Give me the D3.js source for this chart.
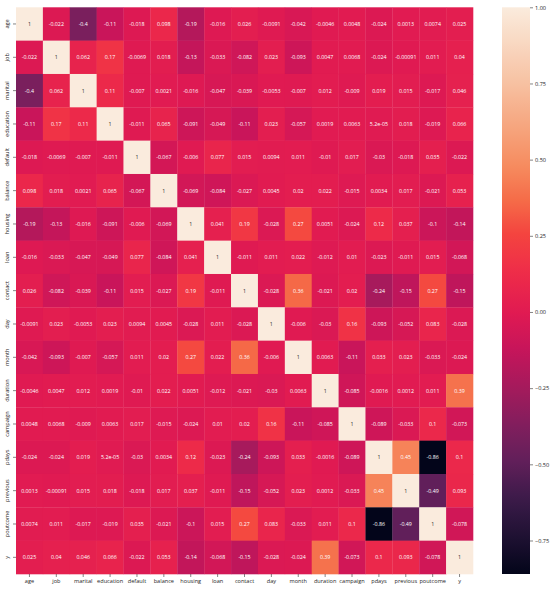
<!DOCTYPE html>
<html>
<head>
<meta charset="utf-8">
<script src="https://cdn.jsdelivr.net/npm/d3@7"></script>
<style>
  html, body { margin: 0; padding: 0; background: #fff; }
  svg { display: block; }
  text { font-family: "Open Sans", "Noto Sans", sans-serif; }
</style>
</head>
<body>
<svg id="chart" width="550" height="590"></svg>
<script>
// ---- data ----
const variables = ["age","job","marital","education","default","balance","housing","loan","contact","day","month","duration","campaign","pdays","previous","poutcome","y"];

const rowAge       = [1, -0.022, -0.4, -0.11, -0.018, 0.098, -0.19, -0.016, 0.026, -0.0091, -0.042, -0.0046, 0.0048, -0.024, 0.0013, 0.0074, 0.025];
const rowJob       = [-0.022, 1, 0.062, 0.17, -0.0069, 0.018, -0.13, -0.033, -0.082, 0.023, -0.093, 0.0047, 0.0068, -0.024, -0.00091, 0.011, 0.04];
const rowMarital   = [-0.4, 0.062, 1, 0.11, -0.007, 0.0021, -0.016, -0.047, -0.039, -0.0053, -0.007, 0.012, -0.009, 0.019, 0.015, -0.017, 0.046];
const rowEducation = [-0.11, 0.17, 0.11, 1, -0.011, 0.065, -0.091, -0.049, -0.11, 0.023, -0.057, 0.0019, 0.0063, 5.2e-05, 0.018, -0.019, 0.066];
const rowDefault   = [-0.018, -0.0069, -0.007, -0.011, 1, -0.067, -0.006, 0.077, 0.015, 0.0094, 0.011, -0.01, 0.017, -0.03, -0.018, 0.035, -0.022];
const rowBalance   = [0.098, 0.018, 0.0021, 0.065, -0.067, 1, -0.069, -0.084, -0.027, 0.0045, 0.02, 0.022, -0.015, 0.0034, 0.017, -0.021, 0.053];
const rowHousing   = [-0.19, -0.13, -0.016, -0.091, -0.006, -0.069, 1, 0.041, 0.19, -0.028, 0.27, 0.0051, -0.024, 0.12, 0.037, -0.1, -0.14];
const rowLoan      = [-0.016, -0.033, -0.047, -0.049, 0.077, -0.084, 0.041, 1, -0.011, 0.011, 0.022, -0.012, 0.01, -0.023, -0.011, 0.015, -0.068];
const rowContact   = [0.026, -0.082, -0.039, -0.11, 0.015, -0.027, 0.19, -0.011, 1, -0.028, 0.36, -0.021, 0.02, -0.24, -0.15, 0.27, -0.15];
const rowDay       = [-0.0091, 0.023, -0.0053, 0.023, 0.0094, 0.0045, -0.028, 0.011, -0.028, 1, -0.006, -0.03, 0.16, -0.093, -0.052, 0.083, -0.028];
const rowMonth     = [-0.042, -0.093, -0.007, -0.057, 0.011, 0.02, 0.27, 0.022, 0.36, -0.006, 1, 0.0063, -0.11, 0.033, 0.023, -0.033, -0.024];
const rowDuration  = [-0.0046, 0.0047, 0.012, 0.0019, -0.01, 0.022, 0.0051, -0.012, -0.021, -0.03, 0.0063, 1, -0.085, -0.0016, 0.0012, 0.011, 0.39];
const rowCampaign  = [0.0048, 0.0068, -0.009, 0.0063, 0.017, -0.015, -0.024, 0.01, 0.02, 0.16, -0.11, -0.085, 1, -0.089, -0.033, 0.1, -0.073];
const rowPdays     = [-0.024, -0.024, 0.019, 5.2e-05, -0.03, 0.0034, 0.12, -0.023, -0.24, -0.093, 0.033, -0.0016, -0.089, 1, 0.45, -0.86, 0.1];
const rowPrevious  = [0.0013, -0.00091, 0.015, 0.018, -0.018, 0.017, 0.037, -0.011, -0.15, -0.052, 0.023, 0.0012, -0.033, 0.45, 1, -0.49, 0.093];
const rowPoutcome  = [0.0074, 0.011, -0.017, -0.019, 0.035, -0.021, -0.1, 0.015, 0.27, 0.083, -0.033, 0.011, 0.1, -0.86, -0.49, 1, -0.078];
const rowY         = [0.025, 0.04, 0.046, 0.066, -0.022, 0.053, -0.14, -0.068, -0.15, -0.028, -0.024, 0.39, -0.073, 0.1, 0.093, -0.078, 1];

const matrix = [rowAge,rowJob,rowMarital,rowEducation,rowDefault,rowBalance,rowHousing,rowLoan,rowContact,rowDay,rowMonth,rowDuration,rowCampaign,rowPdays,rowPrevious,rowPoutcome,rowY];

const colorbarTicks = [-0.75, -0.5, -0.25, 0, 0.25, 0.5, 0.75, 1.0];

// ---- rocket-like colormap (calibrated to the reference look) ----
const rocketStops = [
  [0.000, "#03051a"], [0.060, "#1c1030"], [0.130, "#3a1a48"], [0.200, "#621f5a"],
  [0.250, "#7b1f5d"], [0.330, "#a51a5c"], [0.400, "#c8155a"], [0.460, "#e01a52"],
  [0.530, "#ee2b49"], [0.600, "#f4443f"], [0.660, "#f56c48"], [0.720, "#f68b5f"],
  [0.800, "#f6a983"], [0.880, "#f7c6a8"], [1.000, "#faebdd"]
];
const rocket = d3.scaleLinear()
  .domain(rocketStops.map(d => d[0]))
  .range(rocketStops.map(d => d[1]))
  .interpolate(d3.interpolateRgb);

const vmin = -0.86, vmax = 1;
const color = v => rocket((v - vmin) / (vmax - vmin));

// ---- layout ----
const plotL = 16, plotR = 473, plotT = 7.3, plotB = 574;
const svg = d3.select("#chart");

const x = d3.scaleBand().domain(variables).range([plotL, plotR]).padding(0);
const y = d3.scaleBand().domain(variables).range([plotT, plotB]).padding(0);

const cells = [];
matrix.forEach((row, i) => row.forEach((v, j) => cells.push({r: variables[i], c: variables[j], v})));

function fmt(v) {
  if (v !== 0 && Math.abs(v) < 1e-4) {
    let s = v.toExponential(1);
    return s.replace(/e([+-])(\d)$/, "e$10$2");
  }
  return String(v);
}
function luminance(c) {
  const rgb = d3.rgb(c);
  const f = u => { u /= 255; return u <= 0.03928 ? u / 12.92 : Math.pow((u + 0.055) / 1.055, 2.4); };
  return 0.2126 * f(rgb.r) + 0.7152 * f(rgb.g) + 0.0722 * f(rgb.b);
}

const g = svg.append("g");
g.selectAll("rect.cell").data(cells).join("rect")
  .attr("class", "cell")
  .attr("x", d => x(d.c))
  .attr("y", d => y(d.r))
  .attr("width", x.bandwidth() + 0.3)
  .attr("height", y.bandwidth() + 0.3)
  .attr("fill", d => color(d.v));

g.selectAll("text.annot").data(cells).join("text")
  .attr("class", "annot")
  .attr("x", d => x(d.c) + x.bandwidth() / 2)
  .attr("y", d => y(d.r) + y.bandwidth() / 2)
  .attr("text-anchor", "middle")
  .attr("dominant-baseline", "central")
  .attr("font-size", 5.3)
  .attr("fill", d => luminance(color(d.v)) > 0.408 ? "#262626" : "#ffffff")
  .text(d => fmt(d.v));

// axes
const xAxis = svg.append("g")
  .attr("transform", `translate(0,${plotB})`)
  .call(d3.axisBottom(x).tickSize(3).tickPadding(2));
xAxis.select(".domain").remove();
xAxis.selectAll("line").attr("stroke", "#333").attr("stroke-width", 0.6);
xAxis.selectAll("text").attr("font-size", 5.6).attr("fill", "#262626")
  .attr("font-family", "'Open Sans', 'Noto Sans', sans-serif");

const yAxis = svg.append("g")
  .attr("transform", `translate(${plotL},0)`)
  .call(d3.axisLeft(y).tickSize(3).tickPadding(2));
yAxis.select(".domain").remove();
yAxis.selectAll("line").attr("stroke", "#333").attr("stroke-width", 0.6);
yAxis.selectAll("text")
  .attr("font-size", 5.6).attr("fill", "#262626")
  .attr("font-family", "'Open Sans', 'Noto Sans', sans-serif")
  .attr("text-anchor", "middle")
  .attr("x", 0).attr("dy", 0)
  .attr("transform", "translate(-7,0) rotate(-90)");

// colorbar
const cbX = 502, cbW = 28;
const cbScale = d3.scaleLinear().domain([vmin, vmax]).range([plotB, plotT]);
const defs = svg.append("defs");
const grad = defs.append("linearGradient").attr("id", "cbgrad")
  .attr("x1", 0).attr("y1", 1).attr("x2", 0).attr("y2", 0);
d3.range(0, 1.0001, 0.02).forEach(t => {
  grad.append("stop").attr("offset", t).attr("stop-color", rocket(t));
});
svg.append("rect")
  .attr("x", cbX).attr("y", plotT)
  .attr("width", cbW).attr("height", plotB - plotT)
  .attr("fill", "url(#cbgrad)");
const cbAxis = svg.append("g")
  .attr("transform", `translate(${cbX + cbW},0)`)
  .call(d3.axisRight(cbScale).tickValues(colorbarTicks).tickFormat(d3.format(".2f")).tickSize(3).tickPadding(2));
cbAxis.select(".domain").remove();
cbAxis.selectAll("line").attr("stroke", "#333").attr("stroke-width", 0.6);
cbAxis.selectAll("text").attr("font-size", 5.6).attr("fill", "#262626")
  .attr("font-family", "'Open Sans', 'Noto Sans', sans-serif");
</script>
</body>
</html>
